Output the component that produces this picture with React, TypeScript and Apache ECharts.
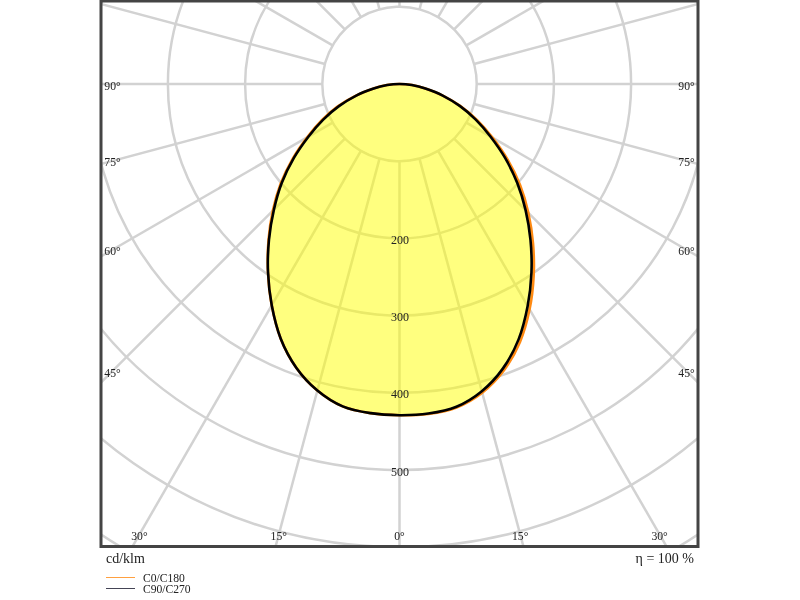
import React, { useEffect, useRef } from 'react';
import * as echarts from 'echarts';

// ---- data (cd/klm) ----
const GAMMA = [0, 5, 10, 15, 20, 25, 30, 35, 40, 45, 50, 55, 60, 65, 70, 75, 80, 85, 90];
const C0 = [429, 429, 425.5, 414, 395, 369, 337, 303, 269, 236, 204, 171, 139, 111, 84, 58, 34, 16, 0];
const C180 = [429, 428, 424, 411, 391, 364, 331, 297, 264, 232, 201, 169, 138, 111, 86, 59, 35, 16, 0];
const C90 = [429, 428.5, 424.5, 412, 392, 365, 332, 298, 264, 231, 199, 167, 136, 109, 83, 58, 34, 16, 0];
const C270 = [429, 428, 424, 411, 391, 364, 331, 297, 263, 230, 199, 167, 136, 109, 83, 58, 34, 16, 0];

const RINGS = [100, 200, 300, 400, 500, 600, 700];
const SPOKES = [0, 15, 30, 45, 60, 75, 90, 105, 120, 135, 150, 165, 180, 195, 210, 225, 240, 255, 270, 285, 300, 315, 330, 345];
const VALUE_LABELS = [200, 300, 400, 500];
const ANGLE_LABELS = [0, 15, 30, 45, 60, 75, 90];
const SERIES_NAMES = ['C0/C180', 'C90/C270'];
const UNIT_LABEL = 'cd/klm';
const EFFICIENCY_LABEL = 'η = 100 %';

// ---- layout / style ----
const PX_PER_UNIT = 0.772;
const FRAME = { x: 101, y: 1, w: 597, h: 545.5 };
const CENTER_PX = { x: 399.5, y: 84 };
const GRID_COLOR = '#d2d2d2';
const ORANGE = '#ff8a12';
const BLACK = '#000000';
const FILL = 'rgba(255,255,0,0.5)';
const TEXT = '#222222';
const SERIF = '"Liberation Serif", "Times New Roman", serif';

function toXY(g: number, r: number, side: number): number[] {
  const a = (g * Math.PI) / 180;
  return [side * r * Math.sin(a), -r * Math.cos(a)];
}

function outline(right: number[], left: number[]): number[][] {
  const pts: number[][] = [];
  GAMMA.forEach((g, i) => pts.push(toXY(g, right[i], 1)));
  for (let i = GAMMA.length - 2; i >= 1; i--) pts.push(toXY(GAMMA[i], left[i], -1));
  return pts;
}

function txt(text: string, x: number, y: number, size: number, align = 'center') {
  return {
    type: 'text',
    style: {
      text, x, y,
      fill: TEXT,
      font: `${size}px ${SERIF}`,
      align, verticalAlign: 'middle',
      textAlign: align, textVerticalAlign: 'middle',
    },
  };
}

export default function App() {
  const ref = useRef<HTMLDivElement>(null);
  useEffect(() => {
    const chart = echarts.init(ref.current as HTMLDivElement, null, { renderer: 'svg' });
    const xHalf = (FRAME.w / 2) / PX_PER_UNIT;
    const yMax = (CENTER_PX.y - FRAME.y) / PX_PER_UNIT;
    const yMin = -(FRAME.y + FRAME.h - CENTER_PX.y) / PX_PER_UNIT;

    const curveA = outline(C0, C180);
    const curveB = outline(C90, C270);

    const option: any = {
      animation: false,
      grid: { left: FRAME.x, top: FRAME.y, width: FRAME.w, height: FRAME.h, show: false },
      xAxis: { type: 'value', min: -xHalf, max: xHalf, show: false },
      yAxis: { type: 'value', min: yMin, max: yMax, show: false },
      series: [
        {
          type: 'custom', name: 'grid', silent: true, clip: true, z: 1,
          data: [[0, 0]],
          renderItem: (params: any, api: any) => {
            const [cx, cy] = api.coord([0, 0]);
            const unit = api.size([100, 0])[0] / 100;
            const children: any[] = [];
            RINGS.forEach((r) => children.push({
              type: 'circle', shape: { cx, cy, r: r * unit },
              style: { fill: 'none', stroke: GRID_COLOR, lineWidth: 2.5 },
            }));
            SPOKES.forEach((a) => {
              const rad = (a * Math.PI) / 180;
              const r0 = RINGS[0] * unit;
              const r1 = 1200 * unit;
              children.push({
                type: 'line',
                shape: {
                  x1: cx + r0 * Math.sin(rad), y1: cy + r0 * Math.cos(rad),
                  x2: cx + r1 * Math.sin(rad), y2: cy + r1 * Math.cos(rad),
                },
                style: { stroke: GRID_COLOR, lineWidth: 2.5 },
              });
            });
            return { type: 'group', children };
          },
        },
        {
          type: 'custom', name: SERIES_NAMES[0], silent: true, clip: false, z: 2,
          data: [[0, 0]],
          renderItem: (params: any, api: any) => ({
            type: 'polygon',
            shape: { points: curveA.map((p) => api.coord(p)), smooth: 0.35 },
            style: { fill: FILL, stroke: ORANGE, lineWidth: 2.6 },
          }),
        },
        {
          type: 'custom', name: SERIES_NAMES[1], silent: true, clip: false, z: 3,
          data: [[0, 0]],
          renderItem: (params: any, api: any) => ({
            type: 'polygon',
            shape: { points: curveB.map((p) => api.coord(p)), smooth: 0.35 },
            style: { fill: 'none', stroke: BLACK, lineWidth: 2.6 },
          }),
        },
        {
          type: 'custom', name: 'labels', silent: true, clip: false, z: 4,
          data: [[0, 0]],
          renderItem: (params: any, api: any) => {
            const cs = params.coordSys;
            const [cx, cy] = api.coord([0, 0]);
            const children: any[] = [];
            VALUE_LABELS.forEach((v) => {
              const [x, y] = api.coord([0, -v]);
              children.push(txt(String(v), x + 0.5, y + 1.5, 12));
            });
            const left = cs.x + 11.5;
            const right = cs.x + cs.width - 11.5;
            const bottom = cs.y + cs.height - 12;
            ANGLE_LABELS.forEach((g) => {
              const sides = g === 0 ? [1] : [-1, 1];
              sides.forEach((s) => {
                const a = (g * Math.PI) / 180;
                const dx = Math.sin(a) * s;
                const dy = Math.cos(a);
                let t = Infinity;
                if (dx > 1e-9) t = Math.min(t, (right - cx) / dx);
                if (dx < -1e-9) t = Math.min(t, (left - cx) / dx);
                if (dy > 1e-9) t = Math.min(t, (bottom - cy) / dy);
                children.push(txt(g + '°', cx + t * dx, cy + t * dy + 2, 11.7));
              });
            });
            return { type: 'group', children };
          },
        },
      ],
      graphic: [
        {
          type: 'rect', z: 100, silent: true,
          shape: { x: FRAME.x, y: FRAME.y, width: FRAME.w, height: FRAME.h },
          style: { fill: 'none', stroke: '#444444', lineWidth: 3 },
        },
        { ...txt(UNIT_LABEL, 106, 558, 14, 'left'), z: 100 },
        { ...txt(EFFICIENCY_LABEL, 694, 558, 14, 'right'), z: 100 },
        {
          type: 'line', z: 100, shape: { x1: 106, y1: 577.5, x2: 135, y2: 577.5 },
          style: { stroke: '#ffa040', lineWidth: 1 },
        },
        { ...txt(SERIES_NAMES[0], 143, 578, 11.6, 'left'), z: 100 },
        {
          type: 'line', z: 100, shape: { x1: 106, y1: 588.5, x2: 135, y2: 588.5 },
          style: { stroke: '#444455', lineWidth: 1 },
        },
        { ...txt(SERIES_NAMES[1], 143, 589.5, 11.6, 'left'), z: 100 },
      ],
    };
    chart.setOption(option);
    return () => chart.dispose();
  }, []);
  return <div ref={ref} style={{ position: 'fixed', left: 0, top: 0, width: 800, height: 600 }} />;
}
